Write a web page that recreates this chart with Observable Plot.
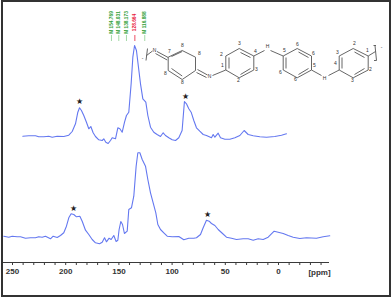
<!DOCTYPE html>
<html><head><meta charset="utf-8">
<script src="https://cdn.jsdelivr.net/npm/d3@7"></script>
<script src="https://cdn.jsdelivr.net/npm/@observablehq/plot@0.6"></script>
<style>
html,body{margin:0;padding:0;background:#fff}
#c{position:relative;width:392px;height:298px;overflow:hidden}
#c svg{display:block}
#b{position:absolute;left:1px;top:0;width:386px;height:293px;border:2px solid #333;pointer-events:none}
</style></head><body><div id="c"><div id="b"></div></div>
<script>
const topPpm=[240.3,234.7,228.4,225.3,220.6,215.9,212.7,208,201.8,197.1,193.9,190.8,188.6,187,185.2,183,180.5,178.3,176.4,174.2,172,168.9,165.7,164.2,162.3,160.1,157.9,156.3,153.2,151,149.1,146.9,144.7,142.9,140.7,138.5,136.9,135.3,133.5,131.6,129.7,127.5,124.7,122.8,120.3,117.2,114.1,110.9,108.4,106.2,103.1,99.9,96.8,93.7,90.6,88.4,86.5,84.3,82.1,79.6,77.1,74,70.8,67.7,63,61.4,59.8,56.7,54.5,50.4,45.7,41,36.3,32.3,28.5,23.8,17.5,11.3,3.5,-2.8,-7.5];
const topInt=[126.3,126.7,126.7,125.7,125.7,126.3,125.3,126.3,126,127.3,131,138.7,150.3,154.7,152,147,140.3,133.7,136,129.7,126,122.7,122,123.7,120.3,119,122,124.7,123.7,134.7,133.7,130.3,140.3,147,150.3,178.7,205.3,217,212,195.3,178.7,163.7,160.3,147,135.3,130.3,128,126,129.7,127,124.7,122.7,122,124.7,132,161,158.7,153.7,150.3,142,134.7,131.3,128,127,124.7,128,125.3,129.3,124.7,123.3,123.3,124.7,127,132,128,126.7,125.7,125.3,126,127.3,128.7];
const bottomPpm=[258.2,253.5,250.3,245.6,242.5,237.8,233.1,228.4,225.3,222.1,219,214.3,211.8,208,204.9,201.8,199.3,197.1,194.9,192.4,189.9,186.7,184.5,181.4,178.3,175.1,172,168.2,165.7,163.5,161.7,159.2,157.3,154.8,152.6,151,149.8,148.2,146.6,144.8,142.2,140.7,138.2,136,133.8,132.2,130.3,128.1,125,122.8,120.3,117.8,115.3,113.4,110.9,107.8,104.6,99.9,93.7,89,84.3,79.6,77.1,73.3,70.8,67.7,65.2,63,59.8,56.7,52.6,48.9,44.2,39.5,33.2,28.5,23.8,19.1,14.4,9.7,4.1,0.3,-4.4,-9.1,-13.8,-20,-26.3,-35.7,-42,-48.2];
const bottomInt=[26.3,25.3,26.3,25.7,25.7,24.3,24.7,24.7,25.7,25.3,26.3,23.7,26.3,25,27,29.7,36.3,44.7,48.7,48,45.7,46.3,41.3,32.3,28,23,19.7,18.7,20.3,24.7,20.7,24.3,23,27,21,22.3,33,41,38,29,31.3,53,54.7,66.3,96.3,109.7,109.7,103,96.3,83,69.7,59.7,49.7,38,33,29.7,26.3,25.7,26,22.7,24.3,24.3,24.7,28,34.7,42.3,41.3,39,37,33,29,25.3,24.3,23,23.7,23.7,22.3,23.7,23,25.3,31.3,30.3,29,27,25.3,24,24.7,24.3,25.7,26.7];
const tickValues=[250,240,230,220,210,200,190,180,170,160,150,140,130,120,110,100,90,80,70,60,50,40,30,20,10,0,-10,-20,-30,-40];
const peakLabels=["M 154.769","M 148.031","M 138.173","128.664","M 116.888"];
const peakPpm=[157,150.1,142.9,135,125.7];
const starPpm=[187,87.5,192.7,66.5];
const starInt=[161,166,54,48];

const X=p=>(278-p)/1.064, Y=py=>262-py;
const hex=(x0,x1,x2,y0,y1,y2,y3)=>[[x0,y1,x1,y0],[x1,y0,x2,y1],[x2,y1,x2,y2],[x2,y2,x1,y3],[x1,y3,x0,y2],[x0,y2,x0,y1]];
const ringA=hex(167.7,181.7,195,50,56.7,70,79);
const ringB=hex(225.3,238.7,253.3,48,55.5,69.5,77.3);
const ringC=hex(282.7,296.7,311,48,55.5,69.5,77.3);
const ringD=hex(338.7,352.7,367.7,48,55.5,69.5,77.3);
const bonds=[...ringA,...ringB,...ringC,...ringD,
 [156.5,51,167.7,57],[155,53,166.7,59.5],[197,69,207,74.5],[196,72,206,77],[212,75,225.3,69.5],
 [253.3,55.5,264,50],[270,50,282.7,55.5],[311,69.5,321,75],[328,75,338.7,69.5],[367.7,55.5,375,51],
 [152,50.5,146,55],
 [171,56,181.7,51],[171,68,181.7,75.5],[240,52,250,57],[240,74,250,68],[228.5,57,228.5,68],
 [298,51.5,308,57],[298,74,308,68],[285.5,57,285.5,68],[354,51.5,364,57],[354,74,364,68],[341.5,57,341.5,68],
 [147,48,145.5,60],[374.5,45,376,60],[375.5,45,373,45],[376,60,373.5,60]];
const atoms=[["N",154,49.5],["N",209,76],["H",267,46],["H",324,78],["7",169,51],["8",182,45],["8",199,53],["8",165,73],["8",182,82],
 ["2",221,54],["3",239,43],["4",255,51],["3",256,69],["2",238,80],["1",222,65],
 ["5",284,50],["6",297,44],["6",313,53],["5",314,65],["6",295,79],["6",280,72],
 ["3",337,52],["2",354,43],["1",367,50],["2",370,69],["3",352,80],["4",335,63],["-",142,58],["-",381,47]];
const idx=a=>d3.range(a.length);
const lineBlue="#6478f0", ink="#3a3a3a";
const plot=Plot.plot({
 width:392,height:298,marginTop:0,marginLeft:12,marginRight:114,marginBottom:36,
 x:{domain:[250,0]},y:{domain:[0,262],axis:null},
 style:{background:"transparent",fontFamily:"'Liberation Sans',Arial,sans-serif"},
 marks:[
  Plot.ruleY([0],{x1:X(3),x2:X(329),stroke:ink,strokeWidth:1}),
  Plot.axisX({ticks:tickValues,tickSize:3,tickPadding:3,label:null,stroke:ink,
    tickFormat:d=>d%50===0?String(d):"",fontSize:8,fontWeight:"bold",fill:"#333"}),
  Plot.text(["[ppm]"],{x:X(319),y:Y(271.5),fontSize:8,fontWeight:"bold",fill:"#333"}),
  Plot.line(idx(topPpm),{x:i=>topPpm[i],y:i=>topInt[i],stroke:lineBlue,strokeWidth:1.1,curve:"linear"}),
  Plot.line(idx(bottomPpm),{x:i=>bottomPpm[i],y:i=>bottomInt[i],stroke:lineBlue,strokeWidth:1.1,curve:"linear"}),
  Plot.text(idx(starPpm),{x:i=>starPpm[i],y:i=>starInt[i],text:()=>"★",fontSize:8,fill:"#222"}),
  Plot.text(idx(peakLabels),{x:i=>peakPpm[i],y:Y(22),text:i=>peakLabels[i],rotate:-90,fontSize:4.8,fontWeight:"bold",
    fill:i=>i===3?"#e8203c":"#2f9e35"}),
  Plot.ruleX(idx(peakPpm),{x:i=>peakPpm[i],y1:Y(35),y2:Y(41),strokeWidth:0.8,
    stroke:i=>i===3?"#e8203c":"#8ccf8f"}),
  Plot.link(bonds,{x1:d=>X(d[0]),y1:d=>Y(d[1]),x2:d=>X(d[2]),y2:d=>Y(d[3]),stroke:"#555",strokeWidth:0.9}),
  Plot.text(atoms,{x:d=>X(d[1]),y:d=>Y(d[2]),text:d=>d[0],fontSize:5,fill:"#333"})
 ]});
document.getElementById("c").prepend(plot);
</script></body></html>
